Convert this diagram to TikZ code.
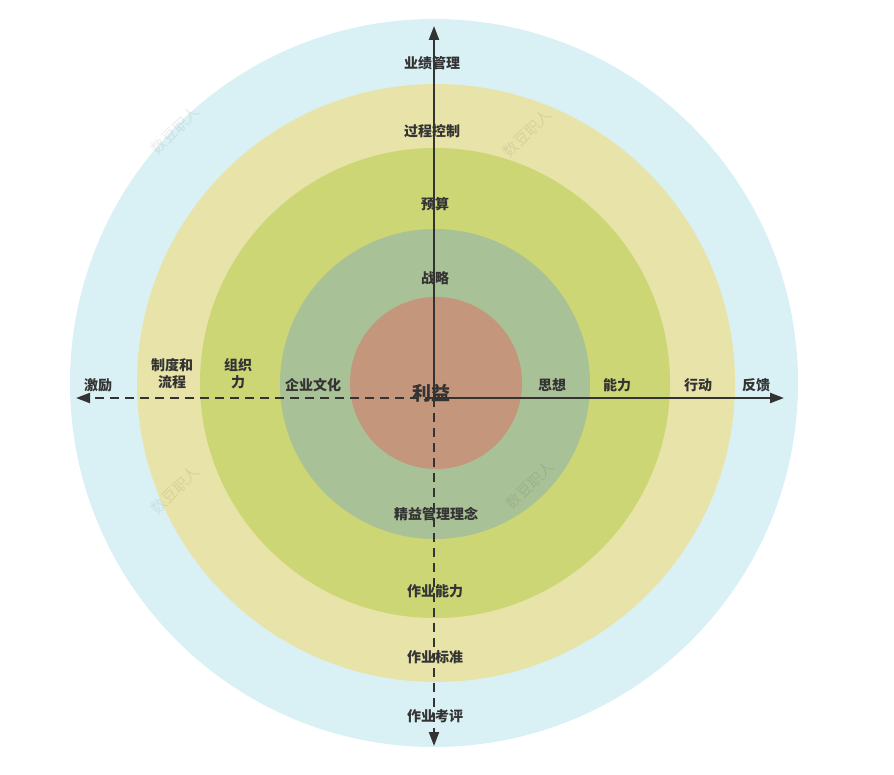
\documentclass[tikz,border=0pt]{standalone}
\usepackage{fontspec}
\newfontfamily\cjk{Noto Sans CJK SC}
\usetikzlibrary{arrows.meta}
\definecolor{cBlue}{RGB}{217,241,244}
\definecolor{cYellow}{RGB}{232,227,168}
\definecolor{cGreen}{RGB}{205,214,117}
\definecolor{cSage}{RGB}{169,193,150}
\definecolor{cRed}{RGB}{196,150,124}
\definecolor{cText}{RGB}{51,51,51}
\tikzset{
  lbl/.style={font=\cjk\bfseries\fontsize{14}{17}\selectfont, text=cText, align=center, inner sep=0pt},
  bigl/.style={font=\cjk\bfseries\fontsize{19}{21}\selectfont, text=cText, inner sep=0pt},
  wm/.style={font=\cjk\fontsize{15}{16}\selectfont, text=black, opacity=0.07, rotate=45, inner sep=0pt},
  axis/.style={line width=2.2pt, draw=cText, -{Triangle[length=14pt,width=10pt]}},
  axisd/.style={axis, dash pattern=on 9pt off 6pt},
}
\begin{document}
\begin{tikzpicture}[x=1pt,y=-1pt]
\useasboundingbox (0,0) rectangle (894,775);
\fill[cBlue] (434,383) circle (364pt);
\fill[cYellow] (436,383) circle (299pt);
\fill[cGreen] (435,383) circle (235pt);
\fill[cSage] (435,384) circle (155pt);
\fill[cRed] (436,383) circle (86pt);
% watermarks
\node[wm] (w1) at (175,130) {数豆职人};
\node[wm] (w2) at (527,133) {数豆职人};
\node[wm] (w3) at (175,490) {数豆职人};
\node[wm] (w4) at (530,485) {数豆职人};
% axes
\coordinate (O) at (434,398);
\coordinate (T) at (434,26);
\coordinate (B) at (434,746);
\coordinate (L) at (76,398);
\coordinate (R) at (784,398);
\draw[axis] (O) -- (T);
\draw[axis] (O) -- (R);
\draw[axisd] (O) -- (B);
\draw[axisd] (O) -- (L);
% labels
\node[lbl] (a1) at (432,63) {业绩管理};
\node[lbl] (a2) at (432,131) {过程控制};
\node[lbl] (a3) at (435,204) {预算};
\node[lbl] (a4) at (435,278) {战略};
\node[bigl] (c) at (431,393) {利益};
\node[lbl] (r1) at (552,385) {思想};
\node[lbl] (r2) at (617,385) {能力};
\node[lbl] (r3) at (698,385) {行动};
\node[lbl] (r4) at (756,385) {反馈};
\node[lbl] (l1) at (98,385) {激励};
\node[lbl] (l2) at (172,374) {制度和\\流程};
\node[lbl] (l3) at (238,374) {组织\\力};
\node[lbl] (l4) at (313,385) {企业文化};
\node[lbl] (b1) at (436,514) {精益管理理念};
\node[lbl] (b2) at (435,591) {作业能力};
\node[lbl] (b3) at (435,657) {作业标准};
\node[lbl] (b4) at (435,716) {作业考评};
\end{tikzpicture}
\end{document}
